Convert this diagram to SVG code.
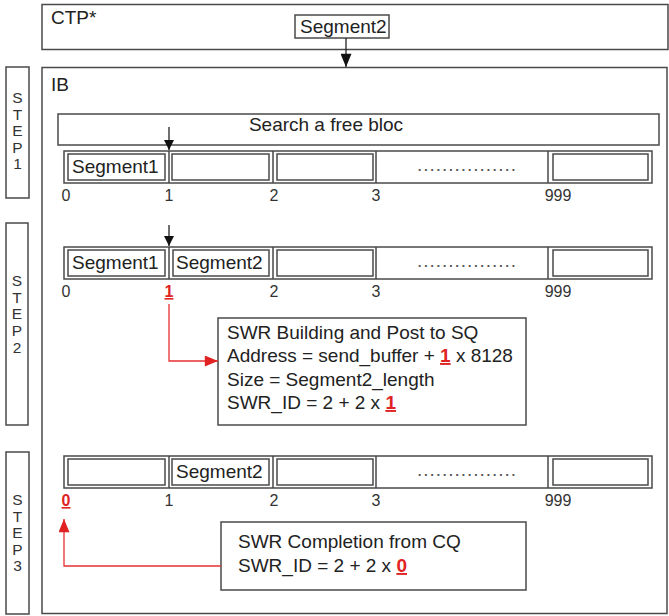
<svg xmlns="http://www.w3.org/2000/svg" width="669" height="616" viewBox="0 0 669 616">
<style>
.box{fill:#fff;stroke:#4a4a4a;stroke-width:1.5}
.ln{fill:none;stroke:#4a4a4a;stroke-width:1.5}
.t{font-family:"Liberation Sans",Arial,sans-serif;font-size:19px;fill:#222}
.lbl{font-family:"Liberation Sans",Arial,sans-serif;font-size:16px;fill:#333;text-anchor:middle}
.step{font-family:"Liberation Sans",Arial,sans-serif;font-size:15.5px;fill:#333;text-anchor:middle}
.dots{font-family:"Liberation Sans",Arial,sans-serif;font-size:19px;fill:#555}
.red{fill:#e02222;font-weight:bold;text-decoration:underline}
.rl{fill:none;stroke:#e83030;stroke-width:1.3}
.ar{fill:none;stroke:#222;stroke-width:1.3}
</style>
<defs>
<marker id="ah" viewBox="0 0 10 10" refX="10" refY="5" markerWidth="10" markerHeight="10" markerUnits="userSpaceOnUse" orient="auto"><path d="M0,0 L10,5 L0,10 z" fill="#111"/></marker>
<marker id="ahL" viewBox="0 0 12 10" refX="12" refY="5" markerWidth="14" markerHeight="11" markerUnits="userSpaceOnUse" orient="auto"><path d="M0,0 L12,5 L0,10 z" fill="#111"/></marker>
<marker id="ahr" viewBox="0 0 12 10" refX="12" refY="5" markerWidth="14" markerHeight="11" markerUnits="userSpaceOnUse" orient="auto"><path d="M0,0 L12,5 L0,10 z" fill="#e02222"/></marker>
</defs>
<rect width="669" height="616" fill="#fff"/>

<g id="ctp">
<rect class="box" x="42" y="4.5" width="626" height="45"/>
<text class="t" x="51" y="24">CTP*</text>
</g>
<g id="ctp-segment2">
<rect class="box" x="295" y="15" width="94" height="23"/>
<text class="t" x="300" y="33">Segment2</text>
</g>

<g id="ib">
<rect class="box" x="42" y="67.5" width="625" height="546"/>
<text class="t" x="51" y="91">IB</text>
</g>

<g id="step1-label">
<rect class="box" x="6" y="67" width="23" height="131"/>
<text class="step"><tspan x="17.5" y="103">S</tspan><tspan x="17.5" y="120">T</tspan><tspan x="17.5" y="136">E</tspan><tspan x="17.5" y="153">P</tspan><tspan x="17.5" y="169">1</tspan></text>
</g>
<g id="step2-label">
<rect class="box" x="6" y="223" width="22" height="202"/>
<text class="step"><tspan x="17" y="286">S</tspan><tspan x="17" y="303">T</tspan><tspan x="17" y="319">E</tspan><tspan x="17" y="336">P</tspan><tspan x="17" y="353">2</tspan></text>
</g>
<g id="step3-label">
<rect class="box" x="6" y="452" width="23" height="162"/>
<text class="step"><tspan x="17.5" y="505">S</tspan><tspan x="17.5" y="522">T</tspan><tspan x="17.5" y="538">E</tspan><tspan x="17.5" y="555">P</tspan><tspan x="17.5" y="571">3</tspan></text>
</g>

<g id="search">
<rect class="box" x="58" y="114" width="601" height="31"/>
<text class="t" x="326" y="131" text-anchor="middle">Search a free bloc</text>
</g>

<g id="row1" transform="translate(0,151)">
<rect class="box" x="64" y="0" width="588" height="32"/>
<path class="ln" d="M169,0V32M273,0V32M376,0V32M548,0V32"/>
<rect class="box" x="68" y="3" width="97" height="26"/>
<rect class="box" x="172" y="3" width="97" height="26"/>
<rect class="box" x="277" y="3" width="96" height="26"/>
<rect class="box" x="553" y="3" width="95" height="26"/>
<text class="t" x="72" y="22">Segment1</text>
<text class="dots" x="417" y="20" textLength="99" lengthAdjust="spacing">................</text>
<text class="lbl" x="66" y="50">0</text><text class="lbl" x="169" y="50">1</text><text class="lbl" x="274" y="50">2</text><text class="lbl" x="376" y="50">3</text><text class="lbl" x="558" y="50">999</text>
</g>

<g id="row2" transform="translate(0,247)">
<rect class="box" x="64" y="0" width="588" height="32"/>
<path class="ln" d="M169,0V32M273,0V32M376,0V32M548,0V32"/>
<rect class="box" x="68" y="3" width="97" height="26"/>
<rect class="box" x="173" y="3" width="96" height="26"/>
<rect class="box" x="277" y="3" width="96" height="26"/>
<rect class="box" x="553" y="3" width="95" height="26"/>
<text class="t" x="72" y="22">Segment1</text>
<text class="t" x="176" y="22">Segment2</text>
<text class="dots" x="417" y="20" textLength="99" lengthAdjust="spacing">................</text>
<text class="lbl" x="66" y="50">0</text><text class="lbl red" x="169" y="50">1</text><text class="lbl" x="274" y="50">2</text><text class="lbl" x="376" y="50">3</text><text class="lbl" x="558" y="50">999</text>
</g>

<g id="row3" transform="translate(0,456)">
<rect class="box" x="64" y="0" width="588" height="32"/>
<path class="ln" d="M169,0V32M273,0V32M376,0V32M548,0V32"/>
<rect class="box" x="68" y="3" width="97" height="26"/>
<rect class="box" x="172" y="3" width="97" height="26"/>
<rect class="box" x="277" y="3" width="96" height="26"/>
<rect class="box" x="553" y="3" width="95" height="26"/>
<text class="t" x="176" y="22">Segment2</text>
<text class="dots" x="417" y="20" textLength="99" lengthAdjust="spacing">................</text>
<text class="lbl red" x="66" y="50">0</text><text class="lbl" x="169" y="50">1</text><text class="lbl" x="274" y="50">2</text><text class="lbl" x="376" y="50">3</text><text class="lbl" x="558" y="50">999</text>
</g>

<g id="swr-building">
<rect class="box" x="218" y="318" width="308" height="107"/>
<text class="t" x="227" y="339">SWR Building and Post to SQ</text>
<text class="t" x="227" y="362">Address = send_buffer + <tspan class="red">1</tspan> x 8128</text>
<text class="t" x="227" y="386">Size = Segment2_length</text>
<text class="t" x="227" y="409">SWR_ID = 2 + 2 x <tspan class="red">1</tspan></text>
</g>

<g id="swr-completion">
<rect class="box" x="221" y="522" width="305" height="68"/>
<text class="t" x="238" y="548">SWR Completion from CQ</text>
<text class="t" x="238" y="572">SWR_ID = 2 + 2 x <tspan class="red">0</tspan></text>
</g>

<g id="connectors">
<path class="ar" d="M346,38V67" marker-end="url(#ahL)"/>
<path class="ar" d="M169,127V150" marker-end="url(#ah)"/>
<path class="ar" d="M169,225V246" marker-end="url(#ah)"/>
<path class="rl" d="M169,304V361H218" marker-end="url(#ahr)"/>
<path class="rl" d="M221,566H64V519" marker-end="url(#ahr)"/>
</g>
</svg>
